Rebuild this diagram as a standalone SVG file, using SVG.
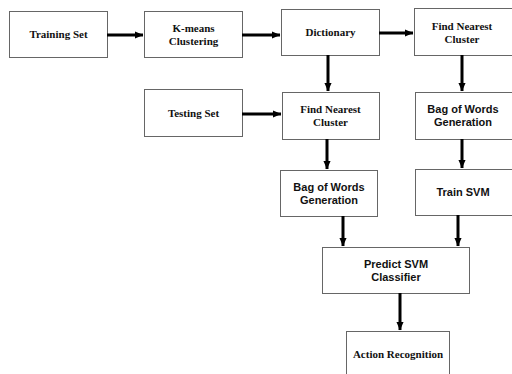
<svg xmlns="http://www.w3.org/2000/svg" width="512" height="374" viewBox="0 0 512 374">
<style>
.box{fill:#fff;stroke:#666;stroke-width:1}
.s{font-family:"Liberation Serif",serif;font-weight:bold;font-size:11px;fill:#111;text-anchor:middle}
.a{font-family:"Liberation Sans",sans-serif;font-weight:bold;font-size:11px;fill:#111;text-anchor:middle}
.c{stroke:#000;stroke-width:3;fill:none;marker-end:url(#ah)}
</style>
<defs>
<marker id="ah" markerWidth="4" markerHeight="4" refX="2.7" refY="2" orient="auto" markerUnits="strokeWidth">
<path d="M0,0.8 L2.8,2 L0,3.2 Z" fill="#000"/>
</marker>
</defs>
<rect width="512" height="374" fill="#fff"/>
<g id="training"><rect class="box" x="9.5" y="11.5" width="98" height="46"/><text class="s" x="58.5" y="38">Training Set</text></g>
<g id="kmeans"><rect class="box" x="144.5" y="11.5" width="98" height="46"/><text class="s" x="193.5" y="32">K-means</text><text class="s" x="193.5" y="45">Clustering</text></g>
<g id="dictionary"><rect class="box" x="281.5" y="9.5" width="98" height="46"/><text class="s" x="330.5" y="36">Dictionary</text></g>
<g id="findTop"><rect class="box" x="414.5" y="8.5" width="100" height="47"/><text class="s" x="462" y="30">Find Nearest</text><text class="s" x="462" y="43">Cluster</text></g>
<g id="testing"><rect class="box" x="144.5" y="89.5" width="98" height="47"/><text class="s" x="193.5" y="117">Testing Set</text></g>
<g id="findMid"><rect class="box" x="282.5" y="92.5" width="97" height="47"/><text class="s" x="330.5" y="113">Find Nearest</text><text class="s" x="330.5" y="126">Cluster</text></g>
<g id="bowRight"><rect class="box" x="415.5" y="92.5" width="100" height="47"/><text class="a" x="463" y="113">Bag of Words</text><text class="a" x="463" y="126">Generation</text></g>
<g id="trainSVM"><rect class="box" x="415.5" y="169.5" width="100" height="46"/><text class="a" x="463" y="196">Train SVM</text></g>
<g id="bowLeft"><rect class="box" x="280.5" y="170.5" width="97" height="46"/><text class="a" x="329" y="191">Bag of Words</text><text class="a" x="329" y="204">Generation</text></g>
<g id="predict"><rect class="box" x="322.5" y="247.5" width="147" height="46"/><text class="a" x="396" y="268">Predict SVM</text><text class="a" x="396" y="281">Classifier</text></g>
<g id="action"><rect class="box" x="346.5" y="331.5" width="103" height="50"/><text class="s" x="398" y="358">Action Recognition</text></g>
<g id="connectors">
<line class="c" x1="107" y1="35" x2="143" y2="35"/>
<line class="c" x1="242" y1="35" x2="280" y2="35"/>
<line class="c" x1="379" y1="33" x2="413" y2="33"/>
<line class="c" x1="328" y1="55" x2="328" y2="91"/>
<line class="c" x1="462" y1="55" x2="462" y2="91"/>
<line class="c" x1="242" y1="114" x2="281" y2="114"/>
<line class="c" x1="327" y1="139" x2="327" y2="169"/>
<line class="c" x1="462" y1="139" x2="462" y2="168"/>
<line class="c" x1="343" y1="216" x2="343" y2="246"/>
<line class="c" x1="458" y1="215" x2="458" y2="246"/>
<line class="c" x1="400" y1="293" x2="400" y2="330"/>
</g>
</svg>
